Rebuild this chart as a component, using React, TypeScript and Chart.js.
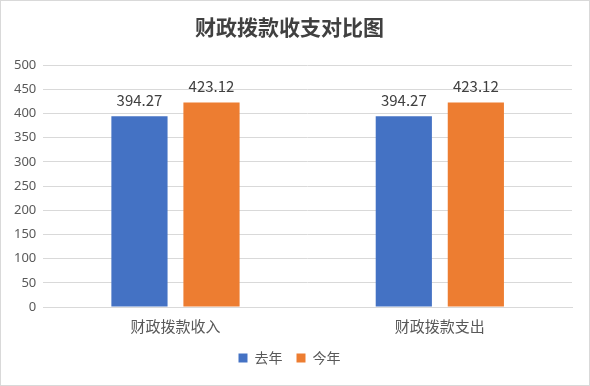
import React, { useEffect, useRef } from "react";
import { Chart, registerables } from "chart.js";

Chart.register(...registerables);

const categories = ["财政拨款收入", "财政拨款支出"];
const lastYear = [394.27, 394.27];
const thisYear = [423.12, 423.12];
const seriesNames = ["去年", "今年"];

const labelPlugin = {
  id: "valueLabels",
  afterDatasetsDraw(chart: any) {
    const ctx = chart.ctx;
    ctx.save();
    ctx.font = '15px "Noto Sans CJK SC", "Noto Sans", sans-serif';
    ctx.fillStyle = "#404040";
    ctx.textAlign = "center";
    ctx.textBaseline = "bottom";
    chart.data.datasets.forEach((ds: any, i: number) => {
      const meta = chart.getDatasetMeta(i);
      meta.data.forEach((bar: any, j: number) => {
        ctx.fillText(Number(ds.data[j]).toFixed(2), bar.x, bar.y - 9);
      });
    });
    ctx.restore();
  },
};

export default function App() {
  const ref = useRef<HTMLCanvasElement>(null);
  useEffect(() => {
    document.body.style.margin = "0";
    const chart = new Chart(ref.current!, {
      type: "bar",
      data: {
        labels: categories,
        datasets: [
          { label: seriesNames[0], data: lastYear, backgroundColor: "#4472C4", barPercentage: 0.78, categoryPercentage: 0.545 },
          { label: seriesNames[1], data: thisYear, backgroundColor: "#ED7D31", barPercentage: 0.78, categoryPercentage: 0.545 },
        ],
      },
      options: {
        animation: false,
        responsive: true,
        maintainAspectRatio: false,
        layout: { padding: { left: 6, right: 17, top: 0, bottom: 10 } },
        plugins: {
          title: {
            display: true,
            text: "财政拨款收支对比图",
            color: "#404040",
            font: { family: '"Noto Sans CJK SC", sans-serif', size: 21, weight: "bold" },
            padding: { top: 13, bottom: 26 },
          },
          legend: {
            position: "bottom",
            labels: {
              boxWidth: 9,
              boxHeight: 9,
              padding: 14,
              color: "#595959",
              font: { family: '"Noto Sans CJK SC", sans-serif', size: 14 },
            },
          },
          tooltip: { enabled: false },
        },
        scales: {
          x: {
            grid: { display: false },
            border: { display: true, color: "#d9d9d9" },
            ticks: { color: "#595959", padding: 2, font: { family: '"Noto Sans CJK SC", sans-serif', size: 15 } },
          },
          y: {
            min: 0,
            max: 500,
            ticks: { stepSize: 50, color: "#595959", padding: 7, font: { family: '"Noto Sans", sans-serif', size: 13 } },
            grid: { color: "#d9d9d9", drawTicks: false },
            border: { display: false },
          },
        },
      },
      plugins: [labelPlugin],
    });
    return () => chart.destroy();
  }, []);
  return (
    <div style={{ position: "absolute", left: 0, top: 0, width: 590, height: 386, boxSizing: "border-box", border: "1px solid #d9d9d9", background: "#fff" }}>
      <canvas ref={ref} />
    </div>
  );
}
